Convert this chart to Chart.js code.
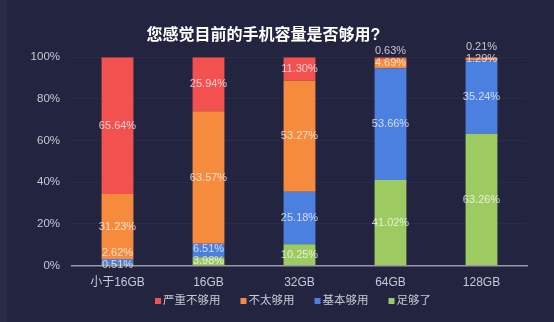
<!DOCTYPE html>
<html>
<head>
<meta charset="utf-8">
<script src="https://cdn.jsdelivr.net/npm/chart.js@4/dist/chart.umd.min.js"></script>
<style>
  html, body { margin: 0; padding: 0; background: #232540; }
  #wrap { width: 554px; height: 322px; background: linear-gradient(to right, #2a2c47 0 7px, #232540 7px); }
</style>
</head>
<body>
<div id="wrap"><canvas id="storage-chart" width="554" height="322"></canvas></div>
<script>
const categories = ["小于16GB", "16GB", "32GB", "64GB", "128GB"];

// shares per capacity, in percent
const seriousNotEnough = [65.64, 25.94, 11.30, 0.63, 0.21];
const notQuiteEnough = [31.23, 63.57, 53.27, 4.69, 1.29];
const mostlyEnough = [2.62, 6.51, 25.18, 53.66, 35.24];
const plenty = [0.51, 3.98, 10.25, 41.02, 63.26];

const yTicks = [0, 20, 40, 60, 80, 100];

const FONT = "'Liberation Sans', Arial, 'Noto Sans CJK SC', sans-serif";
const TEXT_COLOR = "#c8c8d2";

// value labels in the middle of each segment, pushed up when they would collide
const segmentLabels = {
  id: "segmentLabels",
  afterDatasetsDraw(chart) {
    const { ctx } = chart;
    const yScale = chart.scales.y;
    const minGap = 12;
    ctx.save();
    ctx.font = `11px ${FONT}`;
    ctx.fillStyle = "rgba(255,255,255,0.72)";
    ctx.textAlign = "center";
    ctx.textBaseline = "middle";
    categories.forEach((_, i) => {
      let base = 0;
      let prevY = Infinity;
      chart.data.datasets.forEach((ds, di) => {
        const v = ds.data[i];
        const bar = chart.getDatasetMeta(di).data[i];
        let y = yScale.getPixelForValue(base + v / 2);
        if (y > prevY - minGap) y = prevY - minGap;
        ctx.fillText(v.toFixed(2) + "%", bar.x, y);
        prevY = y;
        base += v;
      });
    });
    ctx.restore();
  },
};

// small square legend under the axis, top series first
const bottomLegend = {
  id: "bottomLegend",
  afterDraw(chart) {
    const { ctx } = chart;
    const box = 6;
    const gap = 20;
    let x = 155;
    const y = 301;
    ctx.save();
    ctx.font = `11.5px ${FONT}`;
    ctx.textBaseline = "middle";
    ctx.textAlign = "left";
    chart.data.datasets.slice().reverse().forEach((ds) => {
      ctx.fillStyle = ds.backgroundColor;
      ctx.fillRect(x, y - box / 2, box, box);
      ctx.fillStyle = TEXT_COLOR;
      ctx.fillText(ds.label, x + box + 2, y);
      x += box + 2 + ctx.measureText(ds.label).width + gap;
    });
    ctx.restore();
  },
};

const ctx = document.getElementById("storage-chart").getContext("2d");

new Chart(ctx, {
  type: "bar",
  data: {
    labels: categories,
    datasets: [
      { label: "足够了", data: plenty, backgroundColor: "#9dcb62" },
      { label: "基本够用", data: mostlyEnough, backgroundColor: "#4b7fe0" },
      { label: "不太够用", data: notQuiteEnough, backgroundColor: "#f68b3e" },
      { label: "严重不够用", data: seriousNotEnough, backgroundColor: "#f2514f" },
    ],
  },
  options: {
    responsive: false,
    animation: false,
    layout: { padding: { left: 0, right: 27, top: 0, bottom: 22 } },
    datasets: { bar: { barPercentage: 0.35, categoryPercentage: 1, borderWidth: 0 } },
    plugins: {
      title: {
        display: true,
        text: "您感觉目前的手机容量是否够用?",
        color: "#ffffff",
        font: { family: FONT, size: 16, weight: "bold" },
        padding: { top: 26, bottom: 12 },
      },
      legend: { display: false },
      tooltip: { enabled: false },
    },
    scales: {
      x: {
        stacked: true,
        grid: { display: false, drawTicks: false },
        border: { color: "#9a9aa6", width: 1.5 },
        ticks: { color: TEXT_COLOR, font: { family: FONT, size: 12 }, padding: 10 },
      },
      y: {
        stacked: true,
        min: 0,
        max: 100,
        afterFit(scale) { scale.width = 72; },
        afterBuildTicks(scale) { scale.ticks = yTicks.map((v) => ({ value: v })); },
        grid: { color: "rgba(255,255,255,0.035)", drawTicks: false },
        border: { display: false },
        ticks: {
          color: TEXT_COLOR,
          font: { family: FONT, size: 11.5 },
          padding: 12,
          callback: (v) => `${v}%`,
        },
      },
    },
  },
  plugins: [segmentLabels, bottomLegend],
});
</script>
</body>
</html>
